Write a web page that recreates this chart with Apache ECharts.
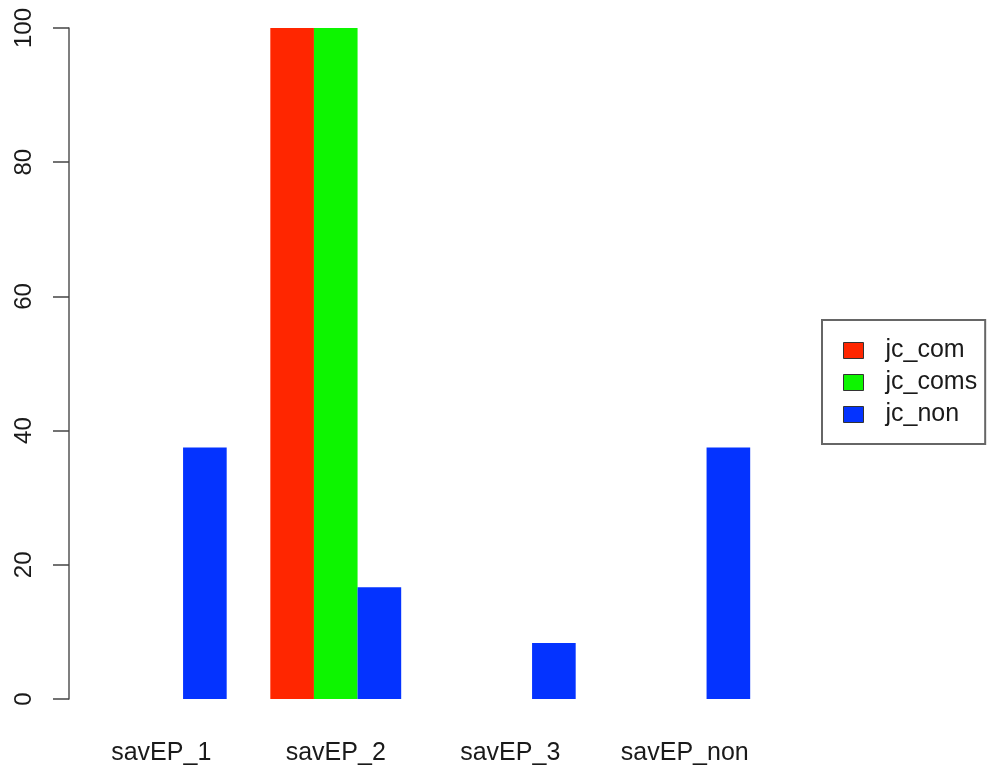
<!DOCTYPE html>
<html>
<head>
<meta charset="utf-8">
<script src="https://cdn.jsdelivr.net/npm/echarts@6/dist/echarts.min.js"></script>
<style>
html,body{margin:0;padding:0;background:#fff;}
#chart{width:988px;height:771px;}
</style>
</head>
<body>
<div id="chart"></div>
<script>
var categories = ['savEP_1', 'savEP_2', 'savEP_3', 'savEP_non'];
var seriesNames = ['jc_com', 'jc_coms', 'jc_non'];
var jc_com = [0, 100, 0, 0];
var jc_coms = [0, 100, 0, 0];
var jc_non = [37.5, 16.67, 8.33, 37.5];
var yTicks = [0, 20, 40, 60, 80, 100];
var colors = ['#ff2600', '#0df500', '#0433ff'];

var FONT = '"Liberation Sans", Arial, Helvetica, sans-serif';
var chart = echarts.init(document.getElementById('chart'), null, {renderer: 'canvas'});

var values = [jc_com, jc_coms, jc_non];
var series = seriesNames.map(function (n, i) {
  return {
    name: n,
    type: 'bar',
    data: values[i],
    barGap: '0%',
    barCategoryGap: '25%',
    itemStyle: {color: colors[i], borderWidth: 0},
    emphasis: {disabled: true},
    animation: false
  };
});

chart.setOption({
  animation: false,
  backgroundColor: '#ffffff',
  color: colors,
  grid: {left: 74, width: 698, top: 28, bottom: 72, containLabel: false},
  xAxis: {
    type: 'category',
    data: categories,
    axisLine: {show: false},
    axisTick: {show: false},
    splitLine: {show: false},
    axisLabel: {
      margin: 42,
      fontSize: 25,
      fontFamily: FONT,
      color: '#1a1a1a',
      interval: 0
    }
  },
  yAxis: {
    type: 'value',
    min: yTicks[0],
    max: yTicks[yTicks.length - 1],
    interval: yTicks[1] - yTicks[0],
    offset: 5,
    splitLine: {show: false},
    axisLine: {show: true, lineStyle: {color: '#555', width: 1.5}},
    axisTick: {show: true, length: 16, lineStyle: {color: '#444', width: 1.5}},
    axisLabel: {
      rotate: 90,
      margin: 33,
      fontSize: 24,
      fontFamily: FONT,
      color: '#1a1a1a'
    }
  },
  legend: {
    data: seriesNames,
    orient: 'vertical',
    left: 822,
    top: 320,
    padding: [18, 8, 17, 21],
    itemGap: 7,
    itemWidth: 20,
    itemHeight: 16,
    icon: 'rect',
    borderColor: '#666',
    borderWidth: 2,
    borderRadius: 0,
    selectedMode: false,
    itemStyle: {borderColor: '#333', borderWidth: 1},
    textStyle: {
      fontSize: 25,
      fontFamily: FONT,
      color: '#1a1a1a',
      padding: [0, 0, 0, 17]
    }
  },
  series: series
});
</script>
</body>
</html>
